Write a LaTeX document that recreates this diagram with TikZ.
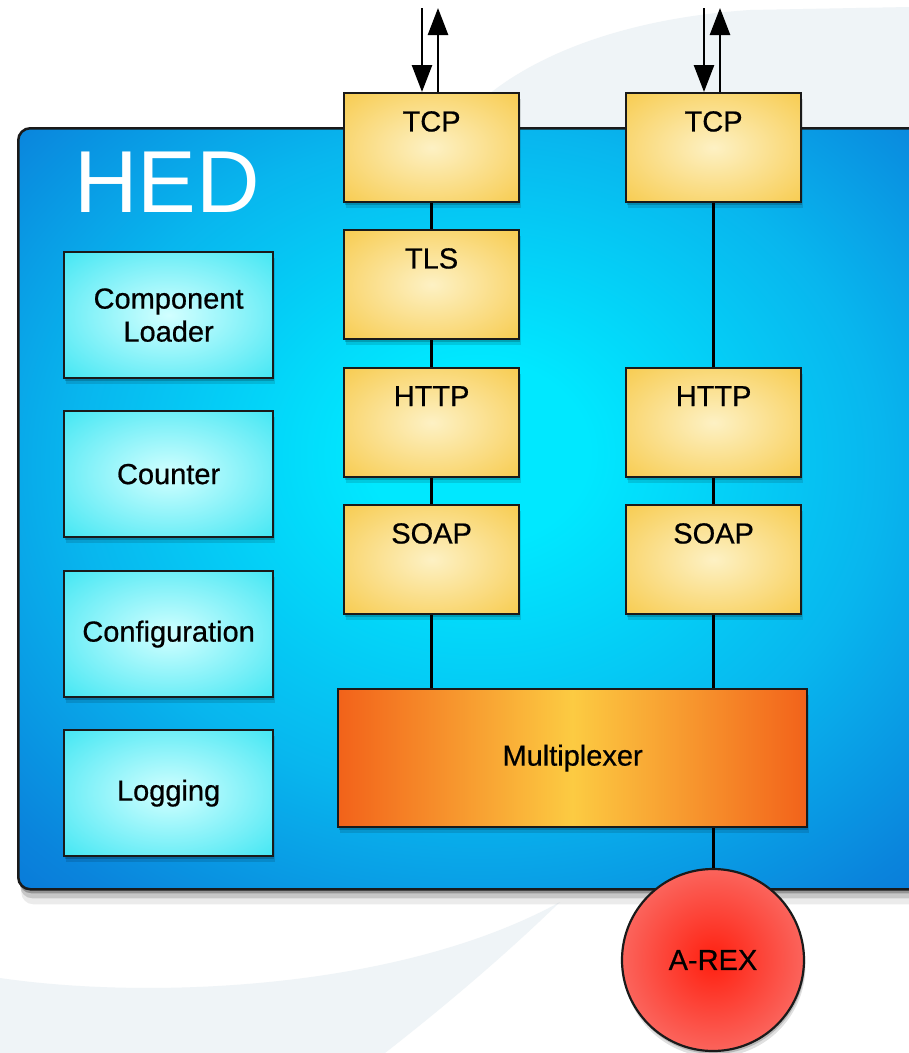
\documentclass[tikz,border=0pt]{standalone}
\usepackage{fontspec}
\setmainfont{Liberation Sans}
\newfontfamily\labfam{Liberation Sans}[FakeBold=0.6]
\usetikzlibrary{arrows.meta,shadows}
\definecolor{hedin}{HTML}{00E8FF}
\definecolor{hedq}{HTML}{08B6EE}
\definecolor{hedmid}{HTML}{0A84DC}
\definecolor{hededge}{HTML}{0766D2}
\definecolor{hedout}{HTML}{0550C6}
\definecolor{yin}{HTML}{FDF1C4}
\definecolor{yout}{HTML}{F6C232}
\definecolor{cin}{HTML}{D2FFFF}
\definecolor{cout}{HTML}{1EE0F0}
\definecolor{rin}{HTML}{FF2010}
\definecolor{rout}{HTML}{F6A8A8}
\definecolor{mxo}{HTML}{F2621A}
\definecolor{mxy}{HTML}{FCCB42}
\definecolor{swoosh}{HTML}{EFF4F7}
\definecolor{edge}{HTML}{1A1A1A}
\pgfdeclareradialshading{hedsh}{\pgfpoint{0bp}{4bp}}{color(0bp)=(hedin);color(6bp)=(hedin);color(22bp)=(hedq);color(34bp)=(hedmid);color(44bp)=(hededge);color(60bp)=(hedout);color(80bp)=(hedout)}
\pgfdeclareradialshading{ysh}{\pgfpoint{0bp}{0bp}}{color(0bp)=(yin);color(45bp)=(yout);color(75bp)=(yout)}
\pgfdeclareradialshading{csh}{\pgfpoint{0bp}{0bp}}{color(0bp)=(cin);color(45bp)=(cout);color(75bp)=(cout)}
\pgfdeclareradialshading{rsh}{\pgfpoint{0bp}{0bp}}{color(0bp)=(rin);color(50bp)=(rout);color(75bp)=(rout)}
\newcommand{\labfont}{\labfam\fontsize{29pt}{33pt}\selectfont}
\tikzset{
  softshadow/.style={drop shadow={shadow xshift=1pt, shadow yshift=-3pt, opacity=0.18, fill=black},
                     drop shadow={shadow xshift=1.5pt, shadow yshift=-6pt, opacity=0.12, fill=black}},
  ybox/.style={draw=edge, line width=2.2pt, shading=ysh, anchor=north west,
    minimum width=175pt, minimum height=109pt, inner sep=0pt, softshadow},
  cbox/.style={draw=edge, line width=2.2pt, shading=csh, anchor=north west,
    minimum width=209pt, minimum height=126pt, inner sep=0pt, align=center,
    font=\labfont, softshadow},
  toplab/.style={label={[font=\labfont, anchor=north, inner sep=0pt, yshift=-19pt]north:#1}},
  wire/.style={line width=3pt, draw=black},
  io/.style={line width=2.6pt, -{Triangle[length=27pt,width=20pt]}},
}
\begin{document}
\begin{tikzpicture}[x=1pt,y=-1pt]
\clip (0,0) rectangle (909,1053);
\fill[white] (0,0) rectangle (909,1053);
% background swooshes
\fill[swoosh] (455,128) .. controls (500,70) and (600,20) .. (750,10) -- (909,7) -- (909,128) -- cycle;
\fill[swoosh] (0,978) .. controls (150,1000) and (400,990) .. (560,902)
  .. controls (500,960) and (440,1010) .. (385,1053) -- (0,1053) -- cycle;
% HED container
\node[draw=edge, line width=2.5pt, rounded corners=12pt, shading=hedsh, anchor=north west,
  minimum width=920pt, minimum height=761pt, inner sep=0pt,
  drop shadow={shadow xshift=1pt, shadow yshift=-4pt, opacity=0.25, fill=black},
  drop shadow={shadow xshift=2pt, shadow yshift=-9pt, opacity=0.15, fill=black},
  drop shadow={shadow xshift=3pt, shadow yshift=-15pt, opacity=0.08, fill=black}] (hed) at (17,127) {};
\node[font=\fontsize{88pt}{88pt}\selectfont, text=white, inner sep=0pt] (hedtitle) at (167,182) {HED};
% left column
\node[cbox] (loader) at (63,251) {Component\\Loader};
\node[cbox] (counter) at (63,410) {Counter};
\node[cbox] (config) at (63,570) {Configuration};
\node[cbox] (logging) at (63,729) {Logging};
% multiplexer
\node[draw=edge, line width=2.2pt, left color=mxo, right color=mxo, middle color=mxy,
  anchor=north west, minimum width=469pt, minimum height=138pt, inner sep=0pt,
  font=\labfont, softshadow] (mux) at (337,688) {Multiplexer};
% stack 1
\node[ybox, toplab=TCP] (tcpa) at (343,92) {};
\node[ybox, toplab=TLS] (tlsa) at (343,229) {};
\node[ybox, toplab=HTTP] (httpa) at (343,367) {};
\node[ybox, toplab=SOAP] (soapa) at (343,504) {};
% stack 2
\node[ybox, toplab=TCP] (tcpb) at (625,92) {};
\node[ybox, toplab=HTTP] (httpb) at (625,367) {};
\node[ybox, toplab=SOAP] (soapb) at (625,504) {};
% A-REX
\node[circle, draw=edge, line width=2.2pt, shading=rsh, minimum size=182pt, inner sep=0pt,
  font=\labfont, softshadow] (arex) at (713,960) {A-REX};
% wires
\draw[wire] (tcpa.south) -- (tlsa.north);
\draw[wire] (tlsa.south) -- (httpa.north);
\draw[wire] (httpa.south) -- (soapa.north);
\draw[wire] (soapa.south) -- (soapa.south |- mux.north);
\draw[wire] (tcpb.south) -- (httpb.north);
\draw[wire] (httpb.south) -- (soapb.north);
\draw[wire] (soapb.south) -- (soapb.south |- mux.north);
\draw[wire] (arex.north |- mux.south) -- (arex.north);
% io arrows
\coordinate (ina) at (422,8);
\coordinate (outa) at (438,8);
\coordinate (inb) at (704,8);
\coordinate (outb) at (720,8);
\draw[io] (ina) -- (ina |- tcpa.north);
\draw[io] (outa |- tcpa.north) -- (outa);
\draw[io] (inb) -- (inb |- tcpb.north);
\draw[io] (outb |- tcpb.north) -- (outb);
\end{tikzpicture}
\end{document}
